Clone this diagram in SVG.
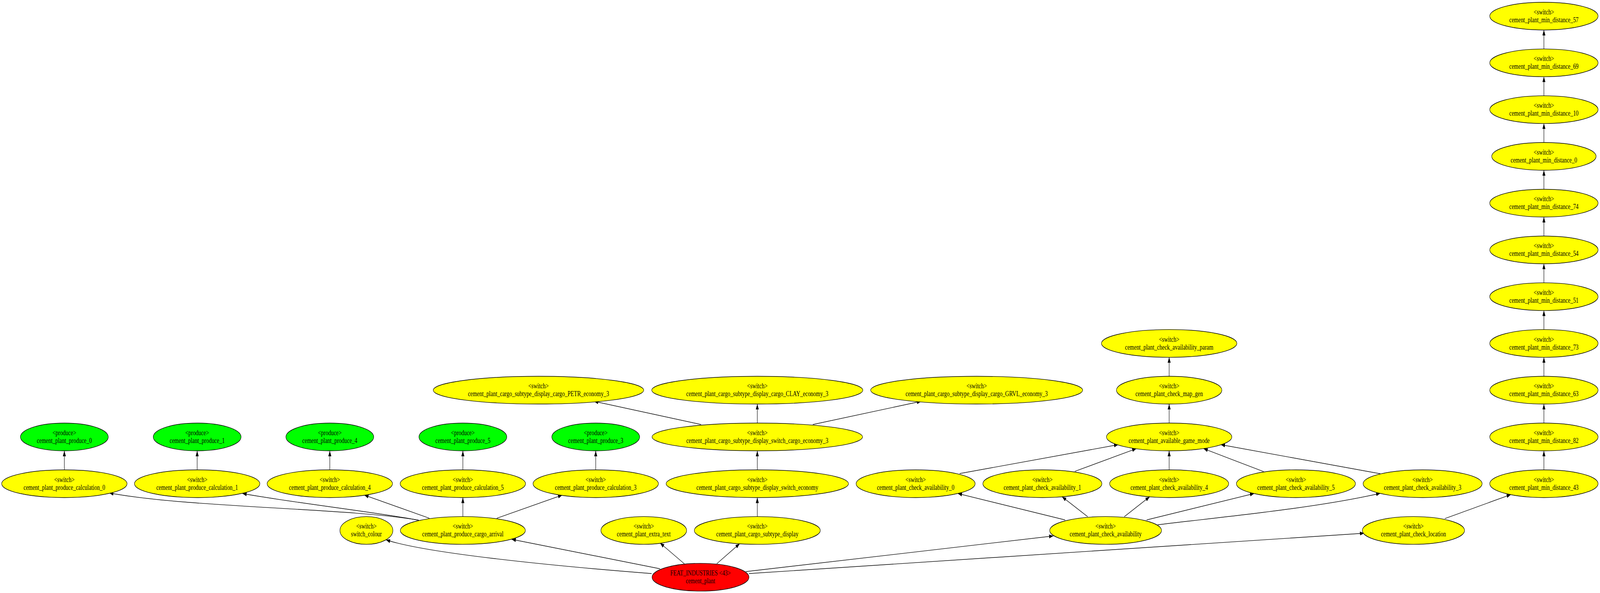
<svg xmlns="http://www.w3.org/2000/svg" width="5283" height="1518" viewBox="0 0 5283 1518" preserveAspectRatio="none">
<style>
svg{width:100vw;height:100vh;overflow:hidden}
.n ellipse{stroke:#000;stroke-width:1.4}
.sw ellipse{fill:#ffff00}
.pr ellipse{fill:#00ff00}
.ft ellipse{fill:#ff0000}
.n text{font-family:"Liberation Serif","Times New Roman",serif;font-size:18px;text-anchor:middle;fill:#000}
#edges path{fill:none;stroke:#000;stroke-width:1.4;marker-end:url(#ah)}
</style>
<defs>
<marker id="ah" viewBox="0 0 14 10" refX="14" refY="5" markerWidth="14" markerHeight="10" markerUnits="userSpaceOnUse" orient="auto"><path d="M0,0L14,5L0,10z" fill="#000"/></marker>
</defs>
<rect width="5283" height="1518" fill="#fff"/>
<g id="edges">
<path d="M2151.5,1468.3 C1800,1447 1400,1415 1274.2,1381.7"/>
<path d="M2179.4,1456 L1689.2,1380.5"/>
<path d="M2260,1443.5 L2179.4,1390"/>
<path d="M2366.8,1443 L2442.5,1391.7"/>
<path d="M2462.4,1463.3 L3478,1372"/>
<path d="M2472.8,1468.3 L4504.3,1365"/>
<path d="M1382.7,1331.7 C1150,1300 620,1300 360.3,1261.7"/>
<path d="M1382.7,1331.7 C1250,1312 950,1285 800.4,1263.3"/>
<path d="M1417.7,1326.7 L1202.8,1267.3"/>
<path d="M1528.3,1322.4 L1528.3,1273.7"/>
<path d="M1640.5,1326.7 L1856.6,1267.3"/>
<path d="M212.5,1202.7 L212.5,1154"/>
<path d="M651,1202.7 L651,1154"/>
<path d="M1089,1202.7 L1089,1154"/>
<path d="M1528.3,1202.7 L1528.3,1154"/>
<path d="M1967,1202.7 L1967,1154"/>
<path d="M2500.5,1322.4 L2500.5,1273.7"/>
<path d="M2500.5,1202.7 L2500.5,1154"/>
<path d="M2314.8,1086.7 L1961.2,1027.3"/>
<path d="M2500.5,1083 L2500.5,1034.3"/>
<path d="M2683.8,1086.7 L3041.7,1027.3"/>
<path d="M3517.1,1331 L3162.4,1263.3"/>
<path d="M3591.3,1322.7 L3506.8,1271.7"/>
<path d="M3712.4,1322.7 L3796.1,1271.7"/>
<path d="M3785.8,1331 L4141.3,1263.3"/>
<path d="M3822.5,1343.3 C4050,1322 4350,1300 4557.8,1262.7"/>
<path d="M3168.7,1212.3 L3692.5,1138.3"/>
<path d="M3549,1206.7 L3752.3,1148.3"/>
<path d="M3860.4,1202.7 L3860.4,1154"/>
<path d="M4172.7,1207.3 L3973.8,1148.3"/>
<path d="M4557.8,1212.7 L4030.8,1138.3"/>
<path d="M3860.4,1083 L3860.4,1034.3"/>
<path d="M3860.4,963.3 L3860.4,914.6"/>
<path d="M4770.4,1327.7 L4988.8,1266"/>
<path d="M5097.8,1202.7 L5097.8,1154"/>
<path d="M5097.8,1083 L5097.8,1034.3"/>
<path d="M5097.8,963.3 L5097.8,914.6"/>
<path d="M5097.8,843.6 L5097.8,794.9"/>
<path d="M5097.8,723.9 L5097.8,675.2"/>
<path d="M5097.8,604.2 L5097.8,555.5"/>
<path d="M5097.8,484.5 L5097.8,435.8"/>
<path d="M5097.8,364.8 L5097.8,316.1"/>
<path d="M5097.8,245.1 L5097.8,196.4"/>
<path d="M5097.8,125.4 L5097.8,76.7"/>
</g>
<g id="min_57" class="n sw"><ellipse cx="5097.8" cy="41.2" rx="178.8" ry="35.5"/><text x="5097.8" y="36.7">&lt;switch&gt;</text><text x="5097.8" y="56.7">cement_plant_min_distance_57</text></g>
<g id="min_69" class="n sw"><ellipse cx="5097.8" cy="160.9" rx="178.8" ry="35.5"/><text x="5097.8" y="156.4">&lt;switch&gt;</text><text x="5097.8" y="176.4">cement_plant_min_distance_69</text></g>
<g id="min_10" class="n sw"><ellipse cx="5097.8" cy="280.6" rx="178.8" ry="35.5"/><text x="5097.8" y="276.1">&lt;switch&gt;</text><text x="5097.8" y="296.1">cement_plant_min_distance_10</text></g>
<g id="min_0" class="n sw"><ellipse cx="5097.8" cy="400.3" rx="172.3" ry="35.5"/><text x="5097.8" y="395.8">&lt;switch&gt;</text><text x="5097.8" y="415.8">cement_plant_min_distance_0</text></g>
<g id="min_74" class="n sw"><ellipse cx="5097.8" cy="520" rx="178.8" ry="35.5"/><text x="5097.8" y="515.5">&lt;switch&gt;</text><text x="5097.8" y="535.5">cement_plant_min_distance_74</text></g>
<g id="min_54" class="n sw"><ellipse cx="5097.8" cy="639.7" rx="178.8" ry="35.5"/><text x="5097.8" y="635.2">&lt;switch&gt;</text><text x="5097.8" y="655.2">cement_plant_min_distance_54</text></g>
<g id="min_51" class="n sw"><ellipse cx="5097.8" cy="759.4" rx="178.8" ry="35.5"/><text x="5097.8" y="754.9">&lt;switch&gt;</text><text x="5097.8" y="774.9">cement_plant_min_distance_51</text></g>
<g id="min_73" class="n sw"><ellipse cx="5097.8" cy="879.1" rx="178.8" ry="35.5"/><text x="5097.8" y="874.6">&lt;switch&gt;</text><text x="5097.8" y="894.6">cement_plant_min_distance_73</text></g>
<g id="min_63" class="n sw"><ellipse cx="5097.8" cy="998.8" rx="178.8" ry="35.5"/><text x="5097.8" y="994.3">&lt;switch&gt;</text><text x="5097.8" y="1014.3">cement_plant_min_distance_63</text></g>
<g id="min_82" class="n sw"><ellipse cx="5097.8" cy="1118.5" rx="178.8" ry="35.5"/><text x="5097.8" y="1114">&lt;switch&gt;</text><text x="5097.8" y="1134">cement_plant_min_distance_82</text></g>
<g id="min_43" class="n sw"><ellipse cx="5097.8" cy="1238.2" rx="178.8" ry="35.5"/><text x="5097.8" y="1233.7">&lt;switch&gt;</text><text x="5097.8" y="1253.7">cement_plant_min_distance_43</text></g>
<g id="param" class="n sw"><ellipse cx="3860.4" cy="879.1" rx="223.6" ry="35.5"/><text x="3860.4" y="874.6">&lt;switch&gt;</text><text x="3860.4" y="894.6">cement_plant_check_availability_param</text></g>
<g id="map_gen" class="n sw"><ellipse cx="3860.4" cy="998.8" rx="174" ry="35.5"/><text x="3860.4" y="994.3">&lt;switch&gt;</text><text x="3860.4" y="1014.3">cement_plant_check_map_gen</text></g>
<g id="petr" class="n sw"><ellipse cx="1778" cy="998.8" rx="347.5" ry="35.5"/><text x="1778" y="994.3">&lt;switch&gt;</text><text x="1778" y="1014.3">cement_plant_cargo_subtype_display_cargo_PETR_economy_3</text></g>
<g id="clay" class="n sw"><ellipse cx="2500.5" cy="998.8" rx="348.5" ry="35.5"/><text x="2500.5" y="994.3">&lt;switch&gt;</text><text x="2500.5" y="1014.3">cement_plant_cargo_subtype_display_cargo_CLAY_economy_3</text></g>
<g id="grvl" class="n sw"><ellipse cx="3224.8" cy="998.8" rx="350" ry="35.5"/><text x="3224.8" y="994.3">&lt;switch&gt;</text><text x="3224.8" y="1014.3">cement_plant_cargo_subtype_display_cargo_GRVL_economy_3</text></g>
<g id="produce_0" class="n pr"><ellipse cx="212.5" cy="1118.5" rx="145" ry="35.5"/><text x="212.5" y="1114">&lt;produce&gt;</text><text x="212.5" y="1134">cement_plant_produce_0</text></g>
<g id="produce_1" class="n pr"><ellipse cx="651" cy="1118.5" rx="145" ry="35.5"/><text x="651" y="1114">&lt;produce&gt;</text><text x="651" y="1134">cement_plant_produce_1</text></g>
<g id="produce_4" class="n pr"><ellipse cx="1089" cy="1118.5" rx="145" ry="35.5"/><text x="1089" y="1114">&lt;produce&gt;</text><text x="1089" y="1134">cement_plant_produce_4</text></g>
<g id="produce_5" class="n pr"><ellipse cx="1528.3" cy="1118.5" rx="145" ry="35.5"/><text x="1528.3" y="1114">&lt;produce&gt;</text><text x="1528.3" y="1134">cement_plant_produce_5</text></g>
<g id="produce_3" class="n pr"><ellipse cx="1967" cy="1118.5" rx="145" ry="35.5"/><text x="1967" y="1114">&lt;produce&gt;</text><text x="1967" y="1134">cement_plant_produce_3</text></g>
<g id="switch_cargo_economy_3" class="n sw"><ellipse cx="2500.5" cy="1118.5" rx="347.5" ry="35.5"/><text x="2500.5" y="1114">&lt;switch&gt;</text><text x="2500.5" y="1134">cement_plant_cargo_subtype_display_switch_cargo_economy_3</text></g>
<g id="game_mode" class="n sw"><ellipse cx="3860.4" cy="1118.5" rx="207" ry="35.5"/><text x="3860.4" y="1114">&lt;switch&gt;</text><text x="3860.4" y="1134">cement_plant_available_game_mode</text></g>
<g id="calc_0" class="n sw"><ellipse cx="212.5" cy="1238.2" rx="207" ry="35.5"/><text x="212.5" y="1233.7">&lt;switch&gt;</text><text x="212.5" y="1253.7">cement_plant_produce_calculation_0</text></g>
<g id="calc_1" class="n sw"><ellipse cx="651" cy="1238.2" rx="207" ry="35.5"/><text x="651" y="1233.7">&lt;switch&gt;</text><text x="651" y="1253.7">cement_plant_produce_calculation_1</text></g>
<g id="calc_4" class="n sw"><ellipse cx="1089" cy="1238.2" rx="207" ry="35.5"/><text x="1089" y="1233.7">&lt;switch&gt;</text><text x="1089" y="1253.7">cement_plant_produce_calculation_4</text></g>
<g id="calc_5" class="n sw"><ellipse cx="1528.3" cy="1238.2" rx="207" ry="35.5"/><text x="1528.3" y="1233.7">&lt;switch&gt;</text><text x="1528.3" y="1253.7">cement_plant_produce_calculation_5</text></g>
<g id="calc_3" class="n sw"><ellipse cx="1967" cy="1238.2" rx="207" ry="35.5"/><text x="1967" y="1233.7">&lt;switch&gt;</text><text x="1967" y="1253.7">cement_plant_produce_calculation_3</text></g>
<g id="switch_economy" class="n sw"><ellipse cx="2500.5" cy="1238.2" rx="301" ry="35.5"/><text x="2500.5" y="1233.7">&lt;switch&gt;</text><text x="2500.5" y="1253.7">cement_plant_cargo_subtype_display_switch_economy</text></g>
<g id="check_av_0" class="n sw"><ellipse cx="3023.3" cy="1238.2" rx="196.5" ry="35.5"/><text x="3023.3" y="1233.7">&lt;switch&gt;</text><text x="3023.3" y="1253.7">cement_plant_check_availability_0</text></g>
<g id="check_av_1" class="n sw"><ellipse cx="3441.8" cy="1238.2" rx="196.5" ry="35.5"/><text x="3441.8" y="1233.7">&lt;switch&gt;</text><text x="3441.8" y="1253.7">cement_plant_check_availability_1</text></g>
<g id="check_av_4" class="n sw"><ellipse cx="3860.4" cy="1238.2" rx="196.5" ry="35.5"/><text x="3860.4" y="1233.7">&lt;switch&gt;</text><text x="3860.4" y="1253.7">cement_plant_check_availability_4</text></g>
<g id="check_av_5" class="n sw"><ellipse cx="4279" cy="1238.2" rx="196.5" ry="35.5"/><text x="4279" y="1233.7">&lt;switch&gt;</text><text x="4279" y="1253.7">cement_plant_check_availability_5</text></g>
<g id="check_av_3" class="n sw"><ellipse cx="4697.3" cy="1238.2" rx="196.5" ry="35.5"/><text x="4697.3" y="1233.7">&lt;switch&gt;</text><text x="4697.3" y="1253.7">cement_plant_check_availability_3</text></g>
<g id="switch_colour" class="n sw"><ellipse cx="1209.8" cy="1357.9" rx="87.4" ry="35.5"/><text x="1209.8" y="1353.4">&lt;switch&gt;</text><text x="1209.8" y="1373.4">switch_colour</text></g>
<g id="cargo_arrival" class="n sw"><ellipse cx="1528.3" cy="1357.9" rx="206.4" ry="35.5"/><text x="1528.3" y="1353.4">&lt;switch&gt;</text><text x="1528.3" y="1373.4">cement_plant_produce_cargo_arrival</text></g>
<g id="extra_text" class="n sw"><ellipse cx="2125.6" cy="1357.9" rx="141.5" ry="35.5"/><text x="2125.6" y="1353.4">&lt;switch&gt;</text><text x="2125.6" y="1373.4">cement_plant_extra_text</text></g>
<g id="cargo_subtype_display" class="n sw"><ellipse cx="2500.5" cy="1357.9" rx="208" ry="35.5"/><text x="2500.5" y="1353.4">&lt;switch&gt;</text><text x="2500.5" y="1373.4">cement_plant_cargo_subtype_display</text></g>
<g id="check_availability" class="n sw"><ellipse cx="3650.6" cy="1357.9" rx="184.6" ry="35.5"/><text x="3650.6" y="1353.4">&lt;switch&gt;</text><text x="3650.6" y="1373.4">cement_plant_check_availability</text></g>
<g id="check_location" class="n sw"><ellipse cx="4667" cy="1357.9" rx="168.7" ry="35.5"/><text x="4667" y="1353.4">&lt;switch&gt;</text><text x="4667" y="1373.4">cement_plant_check_location</text></g>
<g id="feat" class="n ft"><ellipse cx="2313" cy="1477.6" rx="160" ry="35.5"/><text x="2313" y="1473.1">FEAT_INDUSTRIES &lt;43&gt;</text><text x="2313" y="1493.1">cement_plant</text></g>
</svg>
